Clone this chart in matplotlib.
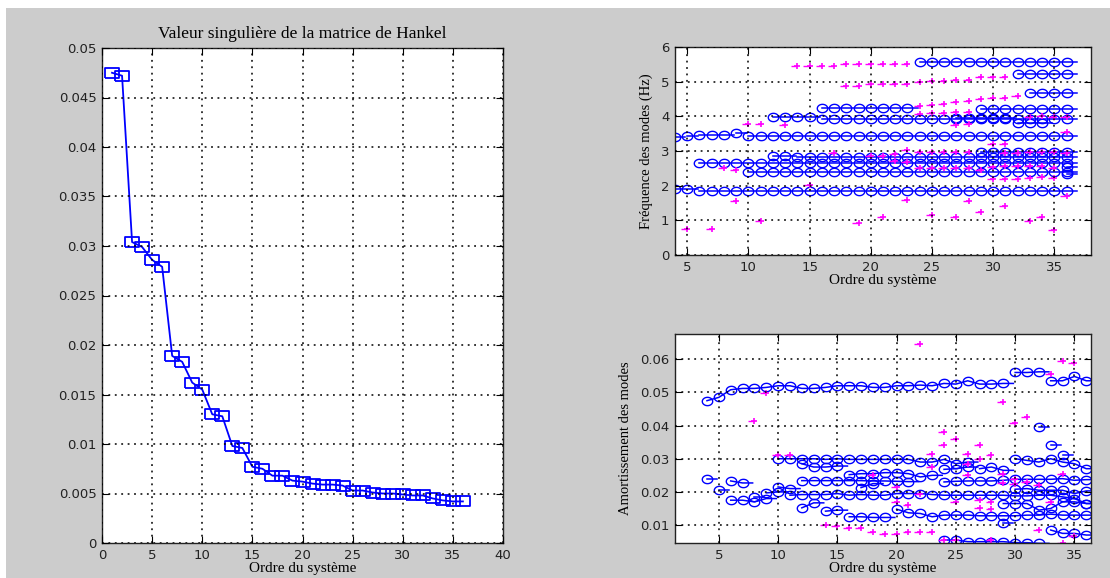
import numpy as np
import matplotlib
matplotlib.use('Agg')
import matplotlib.pyplot as plt
from matplotlib.patches import Rectangle

# singular values of the Hankel matrix, one per system order
ordre = list(range(1, 37))
val_sing = [0.0475, 0.0472, 0.0304, 0.0299, 0.0286, 0.0279, 0.0189, 0.0183,
            0.0162, 0.0155, 0.0130, 0.0128, 0.0098, 0.0096, 0.0077, 0.0075,
            0.0068, 0.0068, 0.0063, 0.0062, 0.0060, 0.0059, 0.0059, 0.0058,
            0.0053, 0.0053, 0.0051, 0.0050, 0.0050, 0.0049, 0.0048, 0.0048,
            0.0045, 0.0043, 0.0042, 0.0042]

# stable frequency tracks: (first order, last order, frequency Hz)
freq_tracks = [(4, 5, 1.89), (6, 36, 1.84),
               (4, 4, 3.40), (5, 5, 3.44), (6, 8, 3.47), (9, 9, 3.51), (10, 36, 3.44),
               (6, 36, 2.64), (10, 36, 2.38),
               (12, 13, 2.87), (14, 36, 2.84),
               (12, 15, 3.98), (16, 36, 3.91),
               (16, 23, 4.23), (29, 36, 4.20),
               (24, 36, 5.58), (32, 36, 5.21), (33, 36, 4.66),
               (29, 36, 2.98), (27, 31, 3.94), (32, 34, 3.81),
               (36, 36, 2.55), (36, 36, 2.33)]

# unstable frequency poles
freq_inst_ordre = [14, 15, 16, 17, 18, 19, 20, 21, 22, 23,
                   18, 19, 20, 21, 22, 23, 24, 25, 26, 27, 28, 29, 30, 31,
                   24, 25, 26, 27, 28, 29, 30, 31, 32,
                   24, 25, 26, 27, 28,
                   10, 11, 13, 27, 28, 30, 31, 8, 9, 15,
                   9, 23, 28, 31, 29, 36, 5, 7,
                   11, 19, 21, 25, 27, 33, 34, 35,
                   30, 31, 32, 33, 34, 35,
                   24, 25, 26, 27, 28, 29, 30, 31, 32, 33, 34, 35,
                   17, 20, 21, 22, 23, 24, 25, 26, 27, 28, 31, 32, 33, 34, 35, 36,
                   22, 23, 33, 34, 35, 36, 36]
freq_inst_val = [5.46, 5.46, 5.46, 5.46, 5.52, 5.52, 5.52, 5.52, 5.52, 5.52,
                 4.88, 4.88, 4.92, 4.92, 4.92, 4.92, 5.00, 5.03, 5.03, 5.06, 5.06, 5.13, 5.13, 5.13,
                 4.29, 4.33, 4.36, 4.40, 4.44, 4.50, 4.54, 4.54, 4.58,
                 4.07, 4.10, 4.10, 4.13, 4.13,
                 3.78, 3.78, 3.75, 3.75, 3.78, 3.20, 3.20, 2.50, 2.46, 2.03,
                 1.55, 1.58, 1.55, 1.42, 1.23, 1.70, 0.75, 0.75,
                 0.97, 0.93, 1.10, 1.14, 1.10, 0.98, 1.10, 0.72,
                 2.18, 2.18, 2.18, 2.21, 2.25, 2.21,
                 2.50, 2.50, 2.50, 2.50, 2.50, 2.46, 2.53, 2.58, 2.58, 2.58, 2.58, 2.50,
                 2.93, 2.87, 2.87, 2.90, 3.03, 2.97, 2.97, 2.97, 2.97, 2.97, 2.93, 2.93, 2.97, 2.97, 2.97, 2.93,
                 2.70, 2.67, 3.97, 4.00, 3.97, 3.97, 3.55]

# stable damping tracks: (first order, damping values for consecutive orders)
amort_tracks = [
    (4, [0.0475, 0.0485, 0.0508, 0.0512, 0.0512, 0.0515, 0.0520, 0.0520, 0.0512,
         0.0512, 0.0515, 0.0520, 0.0520, 0.0520, 0.0515, 0.0515, 0.0520, 0.0520,
         0.0522, 0.0520, 0.0527, 0.0525, 0.0535, 0.0525, 0.0525, 0.0527]),
    (30, [0.0560, 0.0560, 0.0562]),
    (33, [0.0535, 0.0535, 0.0548, 0.0535]),
    (10, [0.0300, 0.0300, 0.0300, 0.0300, 0.0298, 0.0300, 0.0298, 0.0298, 0.0298,
          0.0298, 0.0298, 0.0298, 0.0290, 0.0290, 0.0298, 0.0285, 0.0290]),
    (27, [0.0270, 0.0275, 0.0265]),
    (30, [0.0300, 0.0295, 0.0290, 0.0300, 0.0290, 0.0285, 0.0270]),
    (12, [0.0285, 0.0275, 0.0275, 0.0278]),
    (16, [0.0252, 0.0255, 0.0255, 0.0258, 0.0258, 0.0255, 0.0245, 0.0250]),
    (24, [0.0268, 0.0270, 0.0275]),
    (12, [0.0234, 0.0234, 0.0234, 0.0234, 0.0234, 0.0234, 0.0233, 0.0233, 0.0232, 0.0231]),
    (24, [0.0230, 0.0232, 0.0233, 0.0233, 0.0233, 0.0235, 0.0238, 0.0238, 0.0238,
          0.0238, 0.0240, 0.0235, 0.0237]),
    (11, [0.0190, 0.0192, 0.0192, 0.0192, 0.0195, 0.0190, 0.0192, 0.0190, 0.0190,
          0.0195, 0.0195, 0.0195, 0.0192, 0.0190, 0.0190, 0.0190, 0.0190, 0.0190,
          0.0190, 0.0188, 0.0188, 0.0190, 0.0190, 0.0185, 0.0180, 0.0165]),
    (9, [0.0197, 0.0200]),
    (10, [0.0215, 0.0210]),
    (6, [0.0175, 0.0175, 0.0170, 0.0180]),
    (8, [0.0185]),
    (4, [0.0240]), (5, [0.0205]), (6, [0.0233, 0.0227]),
    (12, [0.0152, 0.0167]), (14, [0.0142, 0.0145]),
    (16, [0.0125, 0.0125, 0.0123, 0.0123]),
    (17, [0.0213, 0.0225]),
    (20, [0.0148, 0.0137, 0.0135, 0.0125, 0.0130, 0.0130, 0.0130, 0.0128, 0.0128,
          0.0128, 0.0128, 0.0130, 0.0130, 0.0133, 0.0130, 0.0130, 0.0130]),
    (24, [0.0055, 0.0055, 0.0050, 0.0050, 0.0050, 0.0050, 0.0047, 0.0047, 0.0045]),
    (29, [0.0165, 0.0165, 0.0165, 0.0145, 0.0150, 0.0170, 0.0170, 0.0165]),
    (33, [0.0085, 0.0075, 0.0075, 0.0070]),
    (32, [0.0395]), (33, [0.0342]), (34, [0.0312]), (29, [0.0105]),
    (30, [0.0208, 0.0210, 0.0205, 0.0205, 0.0205, 0.0195, 0.0203]),
]

# unstable damping poles
amort_inst_ordre = [22, 34, 35, 33, 29, 31, 30, 9, 8, 10, 11, 24, 25, 24, 27, 23,
                    26, 28, 27, 14, 15, 16, 17, 18, 19, 20, 21, 22, 23, 18, 20, 21,
                    20, 22, 25, 26, 27, 27, 28, 28, 29, 29, 30, 30, 31, 32, 32, 33,
                    34, 34, 35, 26, 25, 28, 24, 23]
amort_inst_val = [0.0645, 0.0595, 0.0590, 0.0555, 0.0470, 0.0425, 0.0408, 0.0497,
                  0.0415, 0.0310, 0.0310, 0.0380, 0.0360, 0.0340, 0.0340, 0.0315,
                  0.0315, 0.0310, 0.0300, 0.0100, 0.0098, 0.0092, 0.0092, 0.0078,
                  0.0073, 0.0073, 0.0078, 0.0078, 0.0078, 0.0250, 0.0170, 0.0160,
                  0.0215, 0.0195, 0.0170, 0.0250, 0.0175, 0.0150, 0.0170, 0.0148,
                  0.0255, 0.0228, 0.0225, 0.0240, 0.0230, 0.0220, 0.0085, 0.0170,
                  0.0255, 0.0045, 0.0068, 0.0285, 0.0055, 0.0055, 0.0055, 0.0275]

BLEU = '#0000ff'
MAGENTA = '#ff00ff'
GRIS = '#cccccc'
SERIF = ['Liberation Serif', 'DejaVu Serif']
plt.rcParams['font.family'] = ['DejaVu Sans']

# slightly wide markers, like the stretched MATLAB screenshot
t = np.linspace(0, 2 * np.pi, 40)
OVALE = np.column_stack([1.25 * np.cos(t), np.sin(t)])
CARRE = [(-1.3, -1), (1.3, -1), (1.3, 1), (-1.3, 1), (-1.3, -1)]


def style_axes(ax, fs=9.5):
    ax.set_facecolor('white')
    ax.set_axisbelow(False)
    ax.grid(True, color='black', linestyle=(0, (1.2, 3)), linewidth=1.1, zorder=0.5)
    ax.tick_params(direction='in', top=True, right=True, length=5,
                   labelsize=fs, colors='black', labelcolor='#222222', pad=4)
    for s in ax.spines.values():
        s.set_color('#222222')
        s.set_linewidth(1.0)


fig = plt.figure(figsize=(11.10, 5.78), dpi=100)
fig.patch.set_facecolor('white')
fig.patches.append(Rectangle((6 / 1110, 0), 1 - 6 / 1110, 1 - 8 / 578,
                             transform=fig.transFigure, facecolor=GRIS,
                             edgecolor='none', zorder=-10))

# left: singular values
ax1 = fig.add_axes([102 / 1110, 35 / 578, 401 / 1110, 495 / 578])
ax1.plot(ordre, val_sing, '-', color=BLEU, lw=1.3, marker=CARRE, ms=9.5,
         mfc='none', mec=BLEU, mew=1.3)
ax1.set_xlim(0, 40)
ax1.set_ylim(0, 0.05)
ax1.set_xticks(np.arange(0, 41, 5))
ax1.set_yticks(np.arange(0, 0.0501, 0.005))
ax1.set_yticklabels(['0', '0.005', '0.01', '0.015', '0.02', '0.025', '0.03',
                     '0.035', '0.04', '0.045', '0.05'])
style_axes(ax1)
ax1.set_title('Valeur singulière de la matrice de Hankel', family=SERIF,
              fontsize=12.5, pad=7)
ax1.set_xlabel('Ordre du système', family=SERIF, fontsize=11, labelpad=0)

# top right: frequencies
ax2 = fig.add_axes([675 / 1110, 323 / 578, 416 / 1110, 208 / 578])
for o1, o2, f in freq_tracks:
    xs = np.arange(o1, o2 + 1)
    ax2.plot([o1, o2 + 0.85], [f, f], '-', color=BLEU, lw=1.1)
    ax2.plot(xs, [f] * len(xs), ls='none', marker=OVALE, ms=7.5, mfc='none',
             mec=BLEU, mew=1.0)
ax2.hlines(freq_inst_val, np.array(freq_inst_ordre) - 0.5, freq_inst_ordre,
           color=MAGENTA, lw=1.0)
ax2.plot(freq_inst_ordre, freq_inst_val, '+', ls='none', color=MAGENTA, ms=5, mew=1.2)
ax2.set_xlim(4, 38)
ax2.set_ylim(0, 6)
ax2.set_xticks([5, 10, 15, 20, 25, 30, 35])
ax2.set_yticks(range(0, 7))
style_axes(ax2)
ax2.set_xlabel('Ordre du système', family=SERIF, fontsize=11, labelpad=0)
ax2.set_ylabel('Fréquence des modes (Hz)', family=SERIF, fontsize=10.5, labelpad=6)

# bottom right: damping
ax3 = fig.add_axes([675 / 1110, 35 / 578, 416 / 1110, 209 / 578])
for o1, vals in amort_tracks:
    xs = np.arange(o1, o1 + len(vals))
    xl = np.append(xs, xs[-1] + 0.85)
    yl = np.append(vals, vals[-1])
    ax3.plot(xl, yl, '-', color=BLEU, lw=1.1)
    ax3.plot(xs, vals, ls='none', marker=OVALE, ms=7.5, mfc='none', mec=BLEU, mew=1.0)
ax3.hlines(amort_inst_val, np.array(amort_inst_ordre) - 0.5, amort_inst_ordre,
           color=MAGENTA, lw=1.0)
ax3.plot(amort_inst_ordre, amort_inst_val, '+', ls='none', color=MAGENTA, ms=5, mew=1.2)
ax3.set_xlim(1.3, 36.4)
ax3.set_ylim(0.0046, 0.0676)
ax3.set_xticks([5, 10, 15, 20, 25, 30, 35])
ax3.set_yticks([0.01, 0.02, 0.03, 0.04, 0.05, 0.06])
ax3.set_yticklabels(['0.01', '0.02', '0.03', '0.04', '0.05', '0.06'])
style_axes(ax3)
ax3.set_xlabel('Ordre du système', family=SERIF, fontsize=11, labelpad=0)
ax3.set_ylabel('Amortissement des modes', family=SERIF, fontsize=10.5, labelpad=6)

fig.savefig('out.png', dpi=100, facecolor=fig.get_facecolor())
